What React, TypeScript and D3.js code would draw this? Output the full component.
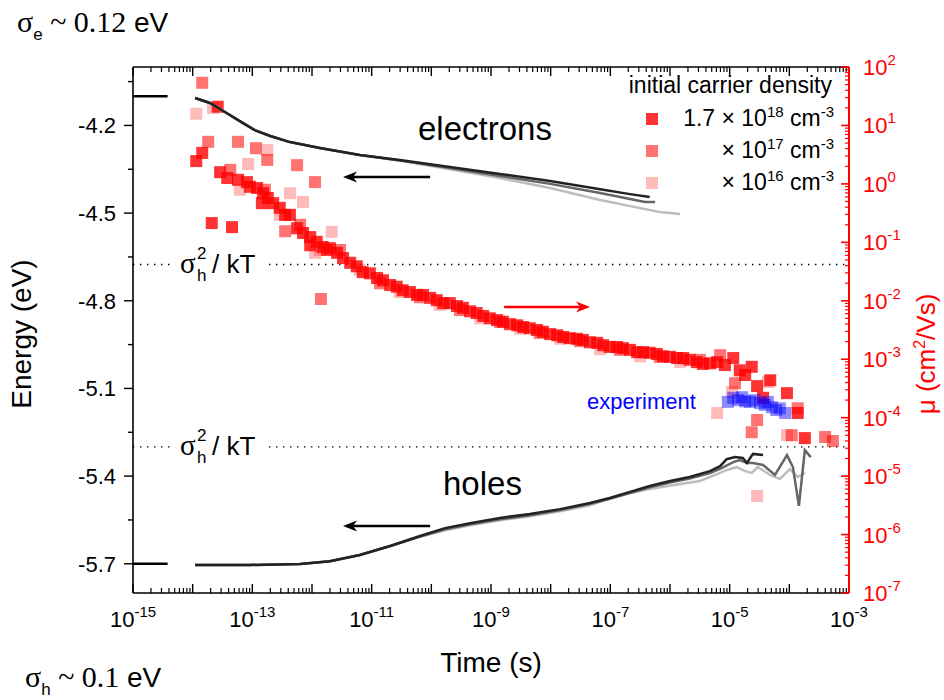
import React from 'react';
import * as d3 from 'd3';

// ---------- data (log10 of time in s, value) ----------
const timeLabelDecades = [-15, -13, -11, -9, -7, -5, -3];
const energyTicks = [-4.2, -4.5, -4.8, -5.1, -5.4, -5.7];
const energyMinor = [-4.05, -4.35, -4.65, -4.95, -5.25, -5.55];
const muDecades = [2, 1, 0, -1, -2, -3, -4, -5, -6, -7];

const initialLevels = [-4.1, -5.7];
const sigmaLevels = [-4.676, -5.3];

// electrons: [log10 t, E (eV)]
const electronsBlack: [number, number][] = [
  [-13.96, -4.106], [-13.71, -4.123], [-13.46, -4.154], [-13.21, -4.185], [-12.96, -4.216],
  [-12.70, -4.236], [-12.37, -4.257], [-11.87, -4.277], [-11.20, -4.301], [-10.53, -4.318],
  [-9.69, -4.342], [-8.85, -4.366], [-8.01, -4.390], [-7.17, -4.418], [-6.67, -4.435], [-6.34, -4.445],
];
const electronsGray: [number, number][] = [
  [-13.96, -4.106], [-13.71, -4.123], [-13.46, -4.154], [-13.21, -4.185], [-12.96, -4.216],
  [-12.70, -4.236], [-12.37, -4.257], [-11.87, -4.277], [-11.20, -4.301], [-10.53, -4.320],
  [-9.69, -4.346], [-8.85, -4.373], [-8.01, -4.400], [-7.17, -4.431], [-6.67, -4.452], [-6.42, -4.462], [-6.25, -4.462],
];
const electronsLight: [number, number][] = [
  [-13.96, -4.106], [-13.71, -4.123], [-13.46, -4.154], [-13.21, -4.185], [-12.96, -4.216],
  [-12.70, -4.236], [-12.37, -4.257], [-11.87, -4.277], [-11.20, -4.301], [-10.53, -4.320],
  [-9.69, -4.350], [-8.85, -4.380], [-8.01, -4.414], [-7.17, -4.455], [-6.50, -4.483], [-6.17, -4.496], [-5.83, -4.503],
];

// holes: [log10 t, E (eV)]
const holesBlack: [number, number][] = [
  [-13.96, -5.704], [-13.04, -5.704], [-12.20, -5.701], [-11.70, -5.691], [-11.20, -5.670],
  [-10.69, -5.639], [-10.19, -5.605], [-9.77, -5.578], [-9.35, -5.561], [-8.85, -5.543],
  [-8.35, -5.530], [-7.84, -5.513], [-7.34, -5.492], [-7.01, -5.475], [-6.67, -5.454],
  [-6.34, -5.434], [-6.00, -5.417], [-5.67, -5.403], [-5.33, -5.383], [-5.16, -5.366],
  [-5.05, -5.342], [-4.91, -5.335], [-4.78, -5.338], [-4.71, -5.355], [-4.61, -5.324], [-4.44, -5.328],
];
const holesGray: [number, number][] = [
  [-13.96, -5.704], [-13.04, -5.704], [-12.20, -5.701], [-11.70, -5.691], [-11.20, -5.670],
  [-10.69, -5.639], [-10.19, -5.607], [-9.77, -5.582], [-9.35, -5.565], [-8.85, -5.548],
  [-8.35, -5.534], [-7.84, -5.516], [-7.34, -5.495], [-7.01, -5.478], [-6.67, -5.458],
  [-6.34, -5.438], [-6.00, -5.422], [-5.67, -5.408], [-5.33, -5.390], [-5.16, -5.375],
  [-4.94, -5.352], [-4.83, -5.345], [-4.71, -5.355], [-4.61, -5.355], [-4.44, -5.362],
  [-4.24, -5.396], [-4.04, -5.328], [-3.94, -5.369], [-3.84, -5.502], [-3.74, -5.311], [-3.64, -5.335],
];
const holesLight: [number, number][] = [
  [-13.96, -5.704], [-13.04, -5.704], [-12.20, -5.701], [-11.70, -5.691], [-11.20, -5.670],
  [-10.69, -5.640], [-10.19, -5.608], [-9.77, -5.585], [-9.35, -5.568], [-8.85, -5.551],
  [-8.35, -5.537], [-7.84, -5.520], [-7.34, -5.500], [-6.84, -5.465], [-6.34, -5.444],
  [-5.83, -5.427], [-5.50, -5.417], [-5.33, -5.403], [-5.16, -5.389], [-5.05, -5.379],
  [-4.88, -5.369], [-4.74, -5.383], [-4.63, -5.389], [-4.53, -5.369], [-4.32, -5.396],
  [-4.16, -5.410], [-3.99, -5.376], [-3.86, -5.403], [-3.74, -5.389],
];

// mobility: [log10 t, log10 mu]
const mobility18: [number, number][] = [
  [-13.94, 0.39], [-13.84, 0.53], [-13.58, 1.32], [-13.68, -0.67], [-13.34, -0.74], [-13.54, 0.20],
  [-13.42, 0.10], [-13.24, 0.07], [-13.09, 0.03], [-13.04, -0.05], [-12.92, -0.07], [-12.82, -0.16],
  [-12.74, -0.24], [-12.84, -0.33], [-12.65, -0.33], [-12.54, -0.41], [-12.45, -0.53], [-12.37, -0.53],
  [-12.25, -0.76], [-12.15, -0.84], [-12.03, -0.91], [-12.03, -1.05], [-11.92, -0.99], [-11.82, -1.08],
  [-11.75, -1.13], [-11.70, -1.10], [-11.58, -1.18], [-11.48, -1.27], [-11.36, -1.35], [-11.25, -1.41],
  [-11.15, -1.51], [-11.03, -1.53], [-10.91, -1.61], [-10.81, -1.65], [-10.69, -1.73], [-10.58, -1.76],
  [-10.48, -1.82], [-10.36, -1.85], [-10.24, -1.90], [-10.14, -1.90], [-10.02, -1.95], [-9.91, -1.99],
  [-9.80, -2.04], [-9.69, -2.04], [-9.57, -2.09], [-9.47, -2.12], [-9.35, -2.18], [-9.24, -2.21],
  [-9.13, -2.26], [-9.02, -2.30], [-8.90, -2.33], [-8.80, -2.36], [-8.68, -2.40], [-8.56, -2.42],
  [-8.46, -2.45], [-8.35, -2.47], [-8.23, -2.50], [-8.13, -2.53], [-8.01, -2.57], [-7.89, -2.59],
  [-7.79, -2.62], [-7.68, -2.64], [-7.56, -2.65], [-7.46, -2.67], [-7.34, -2.71], [-7.22, -2.72],
  [-7.12, -2.76], [-7.01, -2.79], [-6.89, -2.79], [-6.79, -2.81], [-6.67, -2.84], [-6.55, -2.88],
  [-6.45, -2.88], [-6.34, -2.89], [-6.22, -2.91], [-6.12, -2.95], [-6.00, -2.96], [-5.88, -2.98],
  [-5.78, -2.98], [-5.67, -3.01], [-5.55, -3.05], [-5.45, -3.08], [-5.33, -3.07], [-5.21, -3.05],
  [-5.08, -3.10], [-4.94, -2.98], [-4.83, -3.19], [-4.74, -3.27], [-4.63, -3.13], [-4.54, -3.46],
  [-4.44, -3.66], [-4.32, -3.36], [-4.04, -3.58], [-3.86, -3.92], [-3.74, -4.35],
];
const mobility17: [number, number][] = [
  [-13.84, 1.73], [-13.74, 0.72], [-13.24, 0.72], [-12.94, 0.61], [-12.75, 0.41], [-12.25, 0.32],
  [-11.95, 0.03], [-12.45, -0.81], [-11.85, -1.97], [-13.37, 0.24], [-12.79, -0.10], [-12.20, -0.70],
  [-11.53, -1.13], [-10.86, -1.70], [-10.19, -1.94], [-9.52, -2.16], [-8.85, -2.36], [-8.18, -2.55],
  [-7.51, -2.69], [-6.84, -2.84], [-6.17, -2.96], [-5.50, -3.01], [-5.16, -2.93], [-4.91, -3.41],
  [-4.63, -4.25], [-4.54, -4.04], [-3.96, -4.30], [-3.86, -3.84], [-3.40, -4.33], [-3.27, -4.40],
];
const mobility16: [number, number][] = [
  [-13.94, 1.20], [-13.66, 1.30], [-13.07, 0.34], [-12.75, 0.58], [-12.37, -0.16], [-12.15, -0.31],
  [-11.67, -0.82], [-11.95, -1.18], [-13.21, -0.10], [-12.54, -0.53], [-11.87, -1.13], [-11.20, -1.47],
  [-10.53, -1.85], [-9.86, -2.07], [-9.18, -2.30], [-8.51, -2.48], [-7.84, -2.65], [-7.17, -2.83],
  [-6.50, -2.95], [-5.83, -3.05], [-5.21, -3.92], [-4.96, -3.56], [-4.36, -3.39], [-4.04, -4.30], [-4.54, -5.34],
];
const experiment: [number, number][] = [
  [-5.03, -3.73], [-4.94, -3.66], [-4.86, -3.70], [-4.79, -3.65], [-4.74, -3.72], [-4.66, -3.73],
  [-4.58, -3.70], [-4.49, -3.75], [-4.41, -3.78], [-4.36, -3.73], [-4.29, -3.82], [-4.22, -3.87],
  [-4.16, -3.84], [-4.07, -3.92],
];

const legendItems = [
  { prefix: '1.7 × 10', exp: '18', opacity: 0.8 },
  { prefix: '× 10', exp: '17', opacity: 0.55 },
  { prefix: '× 10', exp: '16', opacity: 0.27 },
];

const SANS = '"Liberation Sans", Arial, sans-serif';
const SERIF = '"Liberation Serif", "Times New Roman", serif';

export default function App() {
  const x = d3.scaleLog().domain([1e-15, 1e-3]).range([133, 849]);
  const yE = d3.scaleLinear().domain([-5.8, -4.0]).range([593, 67]);
  const yMu = d3.scaleLog().domain([1e-7, 1e2]).range([593, 67]);
  const [x0, x1] = x.range();
  const [yBot, yTop] = yE.range();
  const tx = (lt: number) => x(Math.pow(10, lt));
  const line = d3.line<[number, number]>().x(d => tx(d[0])).y(d => yE(d[1]));

  const timeMajor = d3.range(-15, -2).map(k => Math.pow(10, k));
  const timeMinor: number[] = [];
  for (let k = -15; k < -3; k++) for (let m = 2; m <= 9; m++) timeMinor.push(m * Math.pow(10, k));
  const muMinor: number[] = [];
  for (let k = -7; k < 2; k++) for (let m = 2; m <= 9; m++) muMinor.push(m * Math.pow(10, k));

  const sq = 12;
  const squares = (data: [number, number][], fill: string, op: number, key: string) =>
    data.map((d, i) => (
      <rect key={key + i} x={tx(d[0]) - sq / 2} y={yMu(Math.pow(10, d[1])) - sq / 2} width={sq} height={sq}
        fill={fill} fillOpacity={op} />
    ));

  const arrow = (ltFrom: number, ltTo: number, e: number, color: string, key: string) => {
    const xa = tx(ltFrom), xb = tx(ltTo), y = yE(e);
    const dir = xb > xa ? 1 : -1;
    return (
      <g key={key}>
        <line x1={xa} y1={y} x2={xb - dir * 10} y2={y} stroke={color} strokeWidth={2.5} />
        <path d={`M${xb},${y} L${xb - dir * 14},${y - 5.5} L${xb - dir * 10},${y} L${xb - dir * 14},${y + 5.5} Z`} fill={color} />
      </g>
    );
  };

  const sigmaLabel = (e: number, key: string) => {
    const y = yE(e);
    return (
      <g key={key}>
        <line x1={x0} x2={172} y1={y} y2={y} stroke="#000" strokeWidth={1.4} strokeDasharray="1.4 5.6" />
        <line x1={269} x2={x1} y1={y} y2={y} stroke="#000" strokeWidth={1.4} strokeDasharray="1.4 5.6" />
        <text x={180} y={y + 8} fontFamily={SERIF} fontSize={29}>σ</text>
        <text x={197} y={y - 6} fontFamily={SANS} fontSize={17}>2</text>
        <text x={197} y={y + 16} fontFamily={SANS} fontSize={17}>h</text>
        <text x={212} y={y + 8} fontFamily={SANS} fontSize={26}>/ kT</text>
      </g>
    );
  };

  return (
    <svg width={944} height={700} style={{ position: 'absolute', left: 0, top: 0, background: '#fff' }}>
      <rect x={0} y={0} width={944} height={700} fill="#fff" />

      {/* corner notes */}
      <text x={17} y={32} fontFamily={SERIF} fontSize={30}>
        σ<tspan fontFamily={SANS} fontSize={17} dy={8}>e</tspan>
        <tspan dy={-8}> ~ 0.12 </tspan>
        <tspan fontFamily={SANS} fontSize={28}>eV</tspan>
      </text>
      <text x={25} y={687} fontFamily={SERIF} fontSize={30}>
        σ<tspan fontFamily={SANS} fontSize={17} dy={8}>h</tspan>
        <tspan dy={-8}> ~ 0.1 </tspan>
        <tspan fontFamily={SANS} fontSize={28}>eV</tspan>
      </text>

      {/* dotted sigma^2/kT lines */}
      {sigmaLevels.map((e, i) => sigmaLabel(e, 's' + i))}

      {/* initial level dashes */}
      {initialLevels.map((e, i) => (
        <line key={'il' + i} x1={x0} x2={tx(-14.42)} y1={yE(e)} y2={yE(e)} stroke="#000" strokeWidth={2.5} />
      ))}

      {/* mobility scatter */}
      <g>
        {squares(mobility16, '#ff0000', 0.27, 'c')}
        {squares(mobility17, '#ff0000', 0.55, 'b')}
        {squares(mobility18, '#ff0000', 0.8, 'a')}
        {squares(experiment, '#0000ff', 0.45, 'x')}
      </g>

      {/* energy curves */}
      <path d={line(electronsLight) || ''} fill="none" stroke="#bdbdbd" strokeWidth={2.5} />
      <path d={line(electronsGray) || ''} fill="none" stroke="#666" strokeWidth={2.5} />
      <path d={line(electronsBlack) || ''} fill="none" stroke="#222" strokeWidth={2.5} />
      <path d={line(holesLight) || ''} fill="none" stroke="#bdbdbd" strokeWidth={2.5} />
      <path d={line(holesGray) || ''} fill="none" stroke="#666" strokeWidth={2.5} />
      <path d={line(holesBlack) || ''} fill="none" stroke="#222" strokeWidth={2.5} />

      {/* arrows */}
      {arrow(-10.02, -11.48, -4.376, '#000', 'ae')}
      {arrow(-10.02, -11.48, -5.571, '#000', 'ah')}
      {arrow(-8.78, -7.34, -4.821, '#ff0000', 'ar')}

      {/* labels */}
      <text x={418} y={140} fontFamily={SANS} fontSize={33}>electrons</text>
      <text x={443} y={495} fontFamily={SANS} fontSize={33}>holes</text>
      <text x={587} y={409} fontFamily={SANS} fontSize={22} fill="#0000ff">experiment</text>

      {/* legend */}
      <text x={832} y={93} textAnchor="end" fontFamily={SANS} fontSize={23}>initial carrier density</text>
      {legendItems.map((it, i) => (
        <g key={'lg' + i}>
          <rect x={646} y={113 + i * 32} width={12} height={12} fill="#ff0000" fillOpacity={it.opacity} />
          <text x={834} y={126 + i * 32} textAnchor="end" fontFamily={SANS} fontSize={23}>
            {it.prefix}<tspan dy={-9} fontSize={15}>{it.exp}</tspan>
            <tspan dy={9}> cm</tspan><tspan dy={-9} fontSize={15}>-3</tspan>
          </text>
        </g>
      ))}

      {/* frame: bottom & top axes */}
      <line x1={x0} x2={x1} y1={yBot} y2={yBot} stroke="#000" strokeWidth={1.6} />
      <line x1={x0} x2={x1} y1={yTop} y2={yTop} stroke="#000" strokeWidth={1.6} />
      {timeMajor.map((t, i) => (
        <g key={'tM' + i}>
          <line x1={x(t)} x2={x(t)} y1={yBot} y2={yBot - 9} stroke="#000" strokeWidth={1.4} />
          <line x1={x(t)} x2={x(t)} y1={yTop} y2={yTop + 9} stroke="#000" strokeWidth={1.4} />
        </g>
      ))}
      {timeMinor.map((t, i) => (
        <g key={'tm' + i}>
          <line x1={x(t)} x2={x(t)} y1={yBot} y2={yBot - 5} stroke="#000" strokeWidth={1.2} />
          <line x1={x(t)} x2={x(t)} y1={yTop} y2={yTop + 5} stroke="#000" strokeWidth={1.2} />
        </g>
      ))}
      {timeLabelDecades.map(k => (
        <text key={'tl' + k} x={x(Math.pow(10, k))} y={627} textAnchor="middle" fontFamily={SANS} fontSize={22}>
          10<tspan dy={-10} fontSize={15}>{String(k)}</tspan>
        </text>
      ))}
      <text x={491} y={672} textAnchor="middle" fontFamily={SANS} fontSize={28}>Time (s)</text>

      {/* left energy axis */}
      <line x1={x0} x2={x0} y1={yTop} y2={yBot} stroke="#000" strokeWidth={1.6} />
      {energyTicks.map(v => (
        <g key={'e' + v}>
          <line x1={x0 - 9} x2={x0} y1={yE(v)} y2={yE(v)} stroke="#000" strokeWidth={1.4} />
          <text x={116} y={yE(v) + 8} textAnchor="end" fontFamily={SANS} fontSize={22}>{v.toFixed(1)}</text>
        </g>
      ))}
      {energyMinor.map(v => (
        <line key={'em' + v} x1={x0 - 5} x2={x0} y1={yE(v)} y2={yE(v)} stroke="#000" strokeWidth={1.4} />
      ))}
      <text transform={`translate(31,334) rotate(-90)`} textAnchor="middle" fontFamily={SANS} fontSize={28}>Energy (eV)</text>

      {/* right mobility axis */}
      <line x1={x1} x2={x1} y1={yTop} y2={yBot} stroke="#ff0000" strokeWidth={2} />
      {muDecades.map(k => (
        <g key={'m' + k}>
          <line x1={x1 - 8} x2={x1} y1={yMu(Math.pow(10, k))} y2={yMu(Math.pow(10, k))} stroke="#ff0000" strokeWidth={1.6} />
          <text x={863} y={yMu(Math.pow(10, k)) + 8} fontFamily={SANS} fontSize={22} fill="#ff0000">
            10<tspan dy={-10} fontSize={15}>{String(k)}</tspan>
          </text>
        </g>
      ))}
      {muMinor.map((v, i) => (
        <line key={'mm' + i} x1={x1 - 4} x2={x1} y1={yMu(v)} y2={yMu(v)} stroke="#ff0000" strokeWidth={1.2} />
      ))}
      <text transform={`translate(935,354) rotate(-90)`} textAnchor="middle" fontFamily={SANS} fontSize={26} fill="#ff0000">
        μ (cm<tspan dy={-10} fontSize={16}>2</tspan><tspan dy={10}>/Vs)</tspan>
      </text>
    </svg>
  );
}
